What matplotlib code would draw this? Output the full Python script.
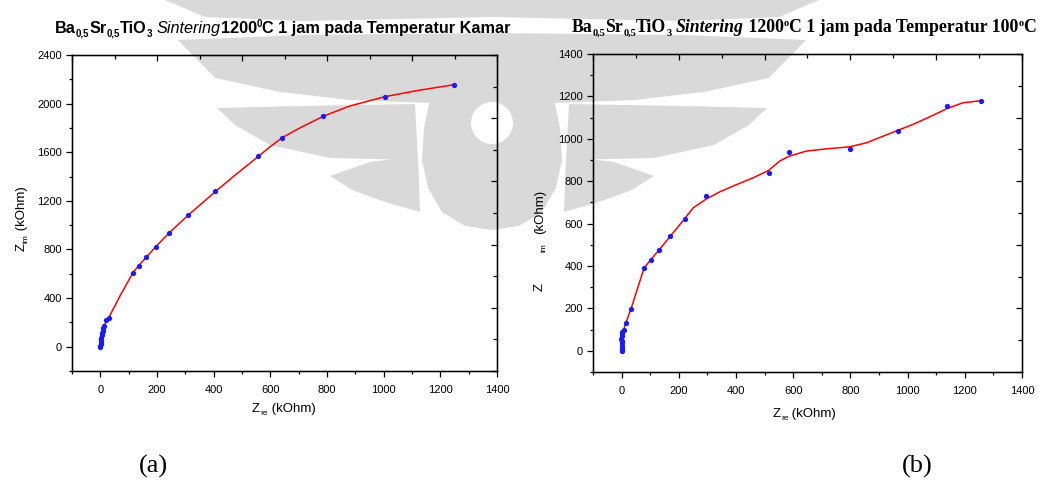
import matplotlib

matplotlib.use("Agg")
import matplotlib.pyplot as plt
from matplotlib.patches import Circle, Polygon
from matplotlib.ticker import MultipleLocator

W, H = 1043, 501

# (a) room temperature: measured points and fitted curve
ROOM_ZRE = [0, -1, 1, 1, 2, 3, 5, 6, 8, 10, 13, 21, 29, 115, 135, 161, 195, 241,
            309, 406, 558, 642, 786, 1006, 1247]
ROOM_ZIM = [0, 8, 20, 36, 52, 71, 99, 115, 132, 150, 167, 216, 233, 606, 666, 734,
            822, 934, 1082, 1277, 1567, 1721, 1899, 2055, 2154]
ROOM_FIT_ZRE = [0, 1, 3, 5, 8, 13, 21, 29, 70, 115, 135, 161, 195, 241, 309, 406,
                480, 558, 600, 642, 706, 786, 880, 1006, 1120, 1247]
ROOM_FIT_ZIM = [0, 25, 70, 100, 135, 170, 210, 235, 420, 608, 666, 733, 821, 932,
                1080, 1276, 1420, 1566, 1646, 1720, 1802, 1895, 1980, 2058, 2108, 2155]

# (b) 100 C: measured points and fitted curve
HOT_ZRE = [0, 1, 2, 3, 1, 0, -1, 1, 2, 3, 7, 15, 33, 79, 102, 132, 170, 220, 296,
           514, 586, 797, 966, 1137, 1258]
HOT_ZIM = [0, 5, 14, 24, 36, 48, 58, 68, 80, 88, 99, 132, 198, 391, 430, 477, 540,
           622, 732, 839, 936, 954, 1035, 1154, 1180]
HOT_FIT_ZRE = [0, 2, 4, 7, 15, 33, 58, 79, 102, 132, 170, 220, 250, 297, 344, 402,
               460, 514, 553, 586, 646, 720, 797, 856, 966, 1019, 1080, 1137, 1194, 1258]
HOT_FIT_ZIM = [0, 30, 65, 99, 132, 198, 304, 391, 430, 477, 540, 622, 674, 717, 750,
               784, 816, 851, 895, 918, 942, 953, 962, 981, 1040, 1068, 1105, 1142,
               1170, 1180]

SANS = "Liberation Sans"
SERIF = "Liberation Serif"
plt.rcParams["font.family"] = SANS
plt.rcParams["xtick.labelsize"] = 8
plt.rcParams["ytick.labelsize"] = 8

fig = plt.figure(figsize=(W / 100, H / 100), dpi=100)

# faint watermark behind the page (left half, mirrored about x = 492 px)
bg = fig.add_axes([0, 0, 1, 1], zorder=-1)
bg.set_xlim(0, W)
bg.set_ylim(H, 0)
bg.axis("off")
WM = "#d9d9d9"
wm_shapes = [
    [(165, 0), (492, 0), (492, 17), (400, 19), (300, 21), (205, 17)],
    [(178, 40), (300, 35), (492, 33), (492, 100), (430, 103), (350, 100),
     (280, 92), (215, 78)],
    [(217, 108), (300, 106), (415, 104), (418, 160), (330, 158), (270, 145),
     (235, 125)],
    [(330, 176), (370, 162), (418, 156), (420, 212), (385, 202), (352, 190)],
    [(430, 100), (492, 100), (492, 230), (465, 226), (442, 212), (428, 188),
     (422, 160), (424, 128)],
]
for shape in wm_shapes:
    bg.add_patch(Polygon(shape, closed=True, facecolor=WM, edgecolor="none"))
    mirrored = [(984 - x, y) for x, y in shape]
    bg.add_patch(Polygon(mirrored, closed=True, facecolor=WM, edgecolor="none"))
bg.add_patch(Circle((492, 123), 21, facecolor="white", edgecolor="none"))


def px_axes(x0, x1, y_top, y_bot):
    return fig.add_axes([x0 / W, 1 - y_bot / H, (x1 - x0) / W, (y_bot - y_top) / H])


def rich_text(x, y, parts, rotation=0):
    """Lay out text pieces one after the other; dy shifts a piece down (px)."""
    renderer = fig.canvas.get_renderer()
    pos = x if rotation == 0 else y
    for text, size, kw, dy in parts:
        if rotation == 0:
            t = fig.text(pos / W, 1 - (y + dy) / H, text, fontsize=size,
                         ha="left", va="baseline", **kw)
            pos += t.get_window_extent(renderer).width
        else:
            t = fig.text((x + dy) / W, 1 - pos / H, text, fontsize=size, rotation=90,
                         rotation_mode="anchor", ha="left", va="baseline", **kw)
            pos -= t.get_window_extent(renderer).height


def style_axes(ax, xlim, ylim, xmaj, xmin, ymaj, ymin):
    ax.set_facecolor("none")
    ax.set_xlim(*xlim)
    ax.set_ylim(*ylim)
    ax.xaxis.set_major_locator(MultipleLocator(xmaj))
    ax.xaxis.set_minor_locator(MultipleLocator(xmin))
    ax.yaxis.set_major_locator(MultipleLocator(ymaj))
    ax.yaxis.set_minor_locator(MultipleLocator(ymin))
    ax.tick_params(which="major", direction="out", length=4.2, width=0.9, pad=3)
    ax.tick_params(which="minor", direction="out", length=2.4, width=0.9)
    ax.tick_params(axis="x", pad=6)
    for s in ax.spines.values():
        s.set_linewidth(1.0)
    # top and right axes carry their own inward ticks, 10 steps across
    top = ax.twiny()
    top.set_xlim(0, 10)
    right = ax.twinx()
    right.set_ylim(0, 10)
    for a, axis in ((top, top.xaxis), (right, right.yaxis)):
        axis.set_major_locator(MultipleLocator(2))
        axis.set_minor_locator(MultipleLocator(1))
        a.tick_params(which="major", direction="in", length=4.5, width=0.9)
        a.tick_params(which="minor", direction="in", length=2.6, width=0.9)
    top.tick_params(axis="x", labeltop=False)
    right.tick_params(axis="y", labelright=False)


def draw_panel(ax, zre, zim, fit_zre, fit_zim):
    ax.plot(fit_zre, fit_zim, color="#ff0000", linewidth=1.1, zorder=2)
    ax.plot(zre, zim, linestyle="none", marker="o", markersize=3.8,
            color="#1a1aff", markeredgewidth=0, zorder=3)


ax1 = px_axes(72, 497, 55, 371)
draw_panel(ax1, ROOM_ZRE, ROOM_ZIM, ROOM_FIT_ZRE, ROOM_FIT_ZIM)
style_axes(ax1, (-100, 1400), (-200, 2400), 200, 100, 400, 200)

ax2 = px_axes(593, 1022, 54, 372)
draw_panel(ax2, HOT_ZRE, HOT_ZIM, HOT_FIT_ZRE, HOT_FIT_ZIM)
style_axes(ax2, (-100, 1400), (-100, 1400), 200, 100, 200, 100)

# titles
bs = {"family": SANS, "weight": "bold"}
rich_text(55, 33, [
    ("Ba", 11.7, bs, 0), ("0,5", 7, bs, 4), ("Sr", 11.7, bs, 0), ("0,5", 7, bs, 4),
    ("TiO", 11.7, bs, 0), ("3", 7, bs, 4), (" ", 11.7, bs, 0),
    ("Sintering", 11.7, {"family": SANS, "style": "italic"}, 0),
    ("1200", 11.7, bs, 0), ("0", 7, bs, -6),
    ("C 1 jam pada Temperatur Kamar", 11.7, bs, 0),
])
ts = {"family": SERIF, "weight": "bold"}
rich_text(572, 32, [
    ("Ba", 12.8, ts, 0), ("0,5", 7.5, ts, 4), ("Sr", 12.8, ts, 0), ("0,5", 7.5, ts, 4),
    ("TiO", 12.8, ts, 0), ("3", 7.5, ts, 4), (" ", 12.8, ts, 0),
    ("Sintering", 12.8, {"family": SERIF, "weight": "bold", "style": "italic"}, 0),
    (" 1200", 12.8, ts, 0), ("o", 7.5, ts, -6),
    ("C 1 jam pada Temperatur 100", 12.8, ts, 0), ("o", 7.5, ts, -6), ("C", 12.8, ts, 0),
])

# axis labels
lab = {"family": SANS}
rich_text(252, 412, [("Z", 9.5, lab, 0), ("re", 6, lab, 3), (" (kOhm)", 9.5, lab, 0)])
rich_text(773, 417, [("Z", 9.5, lab, 0), ("re", 6, lab, 3), (" (kOhm)", 9.5, lab, 0)])
rich_text(25, 251, [("Z", 9.5, lab, 0), ("im", 6, lab, 3), (" (kOhm)", 9.5, lab, 0)],
          rotation=90)
rich_text(543, 291, [("Z", 9.5, lab, 0)], rotation=90)
rich_text(543, 252, [("im", 6, lab, 3)], rotation=90)
rich_text(543, 234, [("(kOhm)", 9.5, lab, 0)], rotation=90)

# panel letters
fig.text(153 / W, 1 - 466 / H, "(a)", fontsize=19, family=SERIF, ha="center", va="center")
fig.text(917 / W, 1 - 466 / H, "(b)", fontsize=19, family=SERIF, ha="center", va="center")

fig.savefig("out.png", dpi=100, facecolor="white")
